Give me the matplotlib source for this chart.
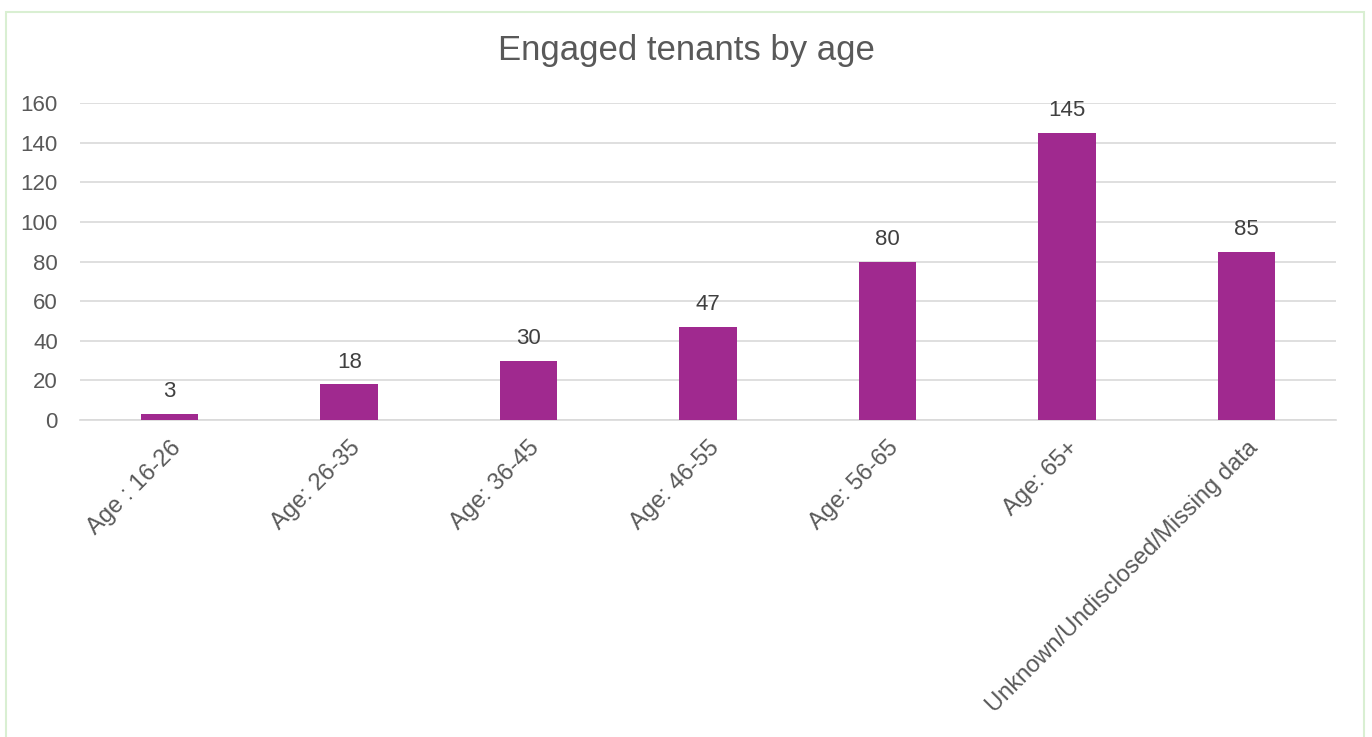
import matplotlib
matplotlib.use('Agg')
import matplotlib.pyplot as plt
from matplotlib.patches import Rectangle

categories = ['Age : 16-26', 'Age: 26-35', 'Age: 36-45', 'Age: 46-55',
              'Age: 56-65', 'Age: 65+', 'Unknown/Undisclosed/Missing data']
values = [3, 18, 30, 47, 80, 145, 85]
yticks = [0, 20, 40, 60, 80, 100, 120, 140, 160]

plt.rcParams['font.family'] = ['Liberation Sans', 'DejaVu Sans']
text_color = '#595959'

fig = plt.figure(figsize=(13.72, 7.37), dpi=100)
ax = fig.add_axes([0.0583, 0.430, 0.9157, 0.430])

# light green frame around the chart
fig.patches.append(Rectangle((6 / 1372, -0.01), 1358 / 1372, 0.9932,
                             transform=fig.transFigure, fill=False,
                             edgecolor='#d9efd2', linewidth=1.5))

x = list(range(len(categories)))
ax.bar(x, values, width=0.32, color='#a0298f', zorder=3)
for xi, v in zip(x, values):
    ax.text(xi, v + 6, str(v), ha='center', va='bottom',
            fontsize=16, color='#404040')

ax.set_xlim(-0.5, len(categories) - 0.5)
ax.set_ylim(0, 160)
ax.set_yticks(yticks)
ax.set_xticks(x)
ax.set_xticklabels(categories, rotation=45, ha='right', rotation_mode='anchor',
                   fontsize=17, color=text_color)
ax.tick_params(axis='y', labelsize=16, labelcolor=text_color, length=0, pad=16)
ax.tick_params(axis='x', length=0, pad=12)
ax.grid(axis='y', color='#d9d9d9', linewidth=1.2, zorder=0)
for s in ['top', 'right', 'left']:
    ax.spines[s].set_visible(False)
ax.spines['bottom'].set_color('#d9d9d9')
ax.spines['bottom'].set_linewidth(1.2)

fig.text(0.5, 0.932, 'Engaged tenants by age', ha='center', va='center',
         fontsize=25, color=text_color)

plt.savefig('out.png', dpi=100)
